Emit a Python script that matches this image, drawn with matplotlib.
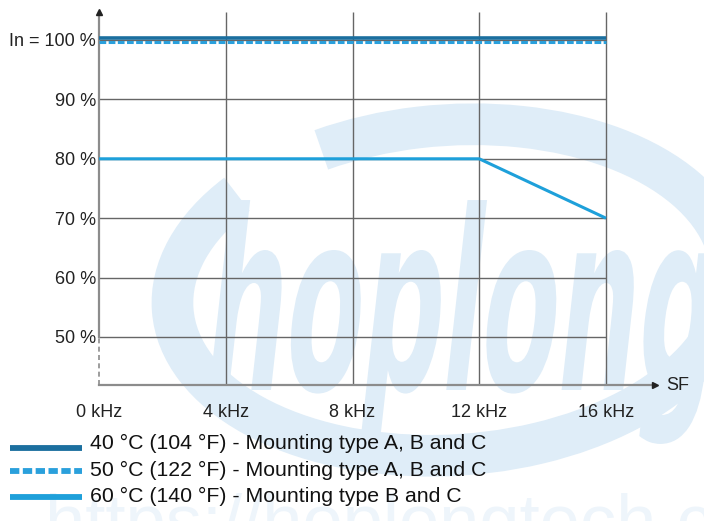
import numpy as np
import matplotlib.pyplot as plt
from matplotlib.lines import Line2D
from matplotlib.patches import Arc, PathPatch
from matplotlib.textpath import TextPath
from matplotlib.font_manager import FontProperties
import matplotlib.transforms as mtransforms

plt.rcParams['font.family'] = ['Liberation Sans', 'DejaVu Sans']

# Derating curves: rated current (%) against switching frequency (kHz)
freq_40 = [0, 16]
current_40 = [100, 100]
freq_50 = [0, 16]
current_50 = [100, 100]
freq_60 = [0, 12, 16]
current_60 = [80, 80, 70]

x_ticks = [0, 4, 8, 12, 16]
x_labels = ['0 kHz', '4 kHz', '8 kHz', '12 kHz', '16 kHz']
y_ticks = [50, 60, 70, 80, 90, 100]
y_labels = ['50 %', '60 %', '70 %', '80 %', '90 %', 'In = 100 %']

series_labels = ['40 °C (104 °F) - Mounting type A, B and C',
                 '50 °C (122 °F) - Mounting type A, B and C',
                 '60 °C (140 °F) - Mounting type B and C']
series_colors = ['#1b6f9f', '#2aa0dc', '#1ea0da']
series_styles = ['-', (0, (1.6, 0.6)), '-']

W, H = 704, 521
fig = plt.figure(figsize=(W / 100, H / 100), dpi=100)

# background layer in pixel coordinates for the watermark
bg = fig.add_axes([0, 0, 1, 1], zorder=0)
bg.set_xlim(0, W)
bg.set_ylim(0, H)
bg.axis('off')
wm = '#dfedf8'
bg.add_patch(Arc((452, H - 290), 560, 330, angle=4, theta1=152, theta2=489,
                 color=wm, lw=30, capstyle='butt'))
tp = TextPath((0, 0), 'hoplong', size=100,
              prop=FontProperties(family='Liberation Sans Narrow', weight='bold'))
tr = mtransforms.Affine2D().skew_deg(14, 0).scale(1.12, 2.5).translate(200, H - 390)
bg.add_patch(PathPatch(tr.transform_path(tp), color=wm, lw=0))
bg.text(45, H - 545, 'https://hoplongtech.com', fontsize=52, color='#eef5fb')

# main chart
x0, x1 = 99, 655
y0, y1 = 385, 12
ax = fig.add_axes([x0 / W, 1 - y0 / H, (x1 - x0) / W, (y0 - y1) / H], zorder=1)
ax.patch.set_alpha(0)
xmax = 16 + (x1 - 606) / ((606 - x0) / 16)
ymin = 50 - (y0 - 337) / 5.94
ymax = 100 + (40 - y1) / 5.94
ax.set_xlim(0, xmax)
ax.set_ylim(ymin, ymax)
for s in ax.spines.values():
    s.set_visible(False)

grid_c = '#666666'
ax.hlines(y_ticks, 0, 16, color=grid_c, lw=1.0, zorder=1)
ax.vlines(x_ticks[1:], ymin, ymax, color=grid_c, lw=1.0, zorder=1)

# axes with arrows; the y axis is broken below 50 %
axis_c = '#8c8c8c'
ax.plot([0, 0], [50, ymax], color=axis_c, lw=1.6, zorder=2, clip_on=False)
ax.plot([0, 0], [ymin, 50], color=axis_c, lw=1.2, ls=(0, (3, 2)), zorder=2, clip_on=False)
ax.plot([0, xmax], [ymin, ymin], color=axis_c, lw=1.6, zorder=2, clip_on=False)
ax.plot([0], [ymax], marker='^', ms=5, color='#222222', clip_on=False, zorder=3)
ax.plot([xmax], [ymin], marker='>', ms=5, color='#222222', clip_on=False, zorder=3)
ax.text(xmax + 0.35, ymin, 'SF', fontsize=13, va='center', ha='left', color='#222222')

ax.set_xticks(x_ticks)
ax.set_xticklabels(x_labels)
ax.set_yticks(y_ticks)
ax.set_yticklabels(y_labels)
ax.tick_params(length=0, labelsize=13, colors='#222222')
ax.tick_params(axis='x', pad=14)
ax.tick_params(axis='y', pad=2)

# the two 100 % curves are drawn slightly apart so both stay visible
up = mtransforms.offset_copy(ax.transData, fig=fig, x=0, y=1.2, units='points')
down = mtransforms.offset_copy(ax.transData, fig=fig, x=0, y=-1.2, units='points')
ax.plot(freq_40, current_40, color=series_colors[0], lw=2.6, transform=up, zorder=4,
        solid_capstyle='butt')
ax.plot(freq_50, current_50, color=series_colors[1], lw=2.2, ls=(0, (2.2, 0.8)),
        transform=down, zorder=4)
ax.plot(freq_60, current_60, color=series_colors[2], lw=2.2, zorder=4,
        solid_capstyle='butt')

# legend below the chart
rows_line = [448, 471, 497]
rows_text = [443, 470, 496]
for lab, c, st, yl, yt in zip(series_labels, series_colors, series_styles, rows_line, rows_text):
    fig.add_artist(Line2D([10 / W, 82 / W], [1 - yl / H, 1 - yl / H], color=c, lw=4.2,
                          ls=st, solid_capstyle='butt'))
    fig.text(90 / W, 1 - yt / H, lab, fontsize=15.3, va='center', ha='left', color='#111111')

fig.savefig('out.png', dpi=100)
